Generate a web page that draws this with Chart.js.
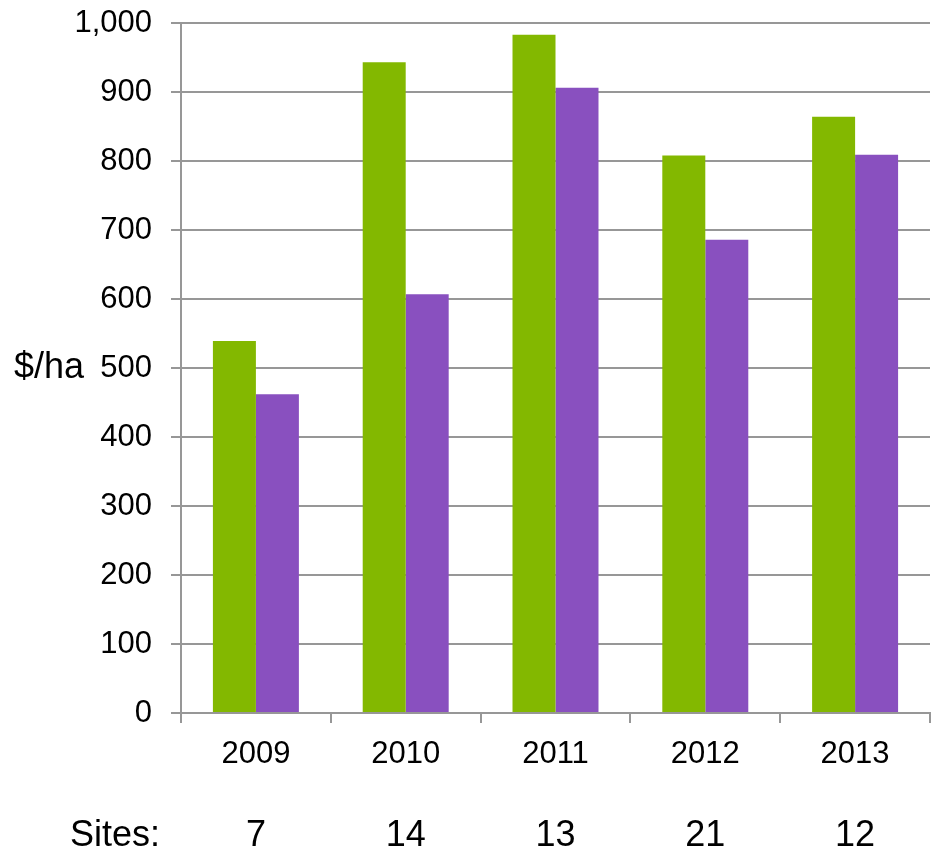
<!DOCTYPE html>
<html>
<head>
<meta charset="utf-8">
<style>
  html, body { margin: 0; padding: 0; background: #ffffff; }
  #wrap { width: 931px; height: 850px; }
</style>
<script src="https://cdn.jsdelivr.net/npm/chart.js@4/dist/chart.umd.min.js"></script>
</head>
<body>
<div id="wrap"><canvas id="c" width="931" height="850"></canvas></div>
<script>
// Years shown along the bottom
const years = ['2009', '2010', '2011', '2012', '2013'];
// Value per hectare, two series
const seriesGreen = [539, 943, 983, 808, 864];
const seriesPurple = [462, 607, 906, 686, 809];
// Number of trial sites per year
const sites = [7, 14, 13, 21, 12];
const sitesLabel = 'Sites:';
const yTitle = '$/ha';

const FONT = "'Liberation Sans', Arial, sans-serif";
const GRID = '#979797';

const extraText = {
  id: 'extraText',
  afterDraw(chart) {
    const ctx = chart.ctx;
    const x = chart.scales.x;
    const area = chart.chartArea;
    ctx.save();
    ctx.fillStyle = '#000';
    ctx.font = '36px ' + FONT;
    ctx.textBaseline = 'middle';
    // y-axis title, horizontal, beside the middle tick
    ctx.textAlign = 'left';
    ctx.fillText(yTitle, 14, (area.top + area.bottom) / 2);
    // sites row
    const rowY = x.bottom - 14;
    ctx.fillText(sitesLabel, 70, rowY);
    ctx.textAlign = 'center';
    sites.forEach((n, i) => {
      ctx.fillText(String(n), x.getPixelForValue(i), rowY);
    });
    ctx.restore();
  }
};

new Chart(document.getElementById('c'), {
  type: 'bar',
  data: {
    labels: years,
    datasets: [
      { data: seriesGreen, backgroundColor: '#83B800', borderWidth: 0 },
      { data: seriesPurple, backgroundColor: '#8950BF', borderWidth: 0 }
    ]
  },
  options: {
    responsive: false,
    animation: false,
    layout: { padding: { top: 23, right: 1, left: 0, bottom: 0 } },
    plugins: { legend: { display: false }, tooltip: { enabled: false } },
    datasets: { bar: { categoryPercentage: 0.574, barPercentage: 1.0 } },
    scales: {
      x: {
        grid: { display: true, drawOnChartArea: false, drawTicks: true, tickLength: 10, color: GRID, lineWidth: 2 },
        border: { display: true, color: GRID, width: 2 },
        ticks: { color: '#000', font: { family: FONT, size: 31 }, padding: 13, maxRotation: 0 },
        afterFit(scale) { scale.height = 137; }
      },
      y: {
        min: 0, max: 1000,
        ticks: {
          stepSize: 100,
          color: '#000',
          font: { family: FONT, size: 31 },
          padding: 19,
          callback: v => Number(v).toLocaleString('en-US')
        },
        grid: { color: GRID, lineWidth: 2, tickLength: 10, drawTicks: true },
        border: { display: true, color: GRID, width: 2 },
        afterFit(scale) {
          scale.width = 181;
          scale.paddingTop = 0;
          scale.paddingBottom = 0;
        }
      }
    }
  },
  plugins: [extraText]
});
</script>
</body>
</html>
